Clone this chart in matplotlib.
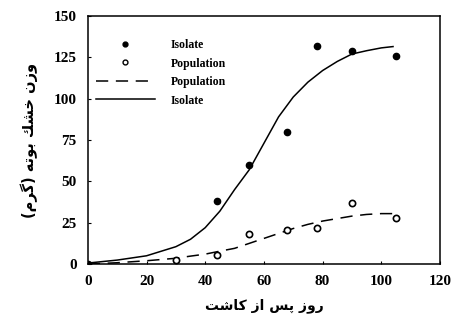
import matplotlib
matplotlib.use('Agg')
import matplotlib.pyplot as plt
from matplotlib.lines import Line2D

# observed points
isolate_days = [0, 44, 55, 68, 78, 90, 105]
isolate_obs = [0, 38, 60, 80, 132, 129, 126]
pop_days = [30, 44, 55, 68, 78, 90, 105]
pop_obs = [2.4, 5.6, 18, 20.6, 22, 37, 28]

# fitted curves
fit_days = [0, 10, 20, 30, 35, 40, 45, 50, 55, 60, 65, 70, 75, 80, 85, 90, 95, 100, 104]
isolate_fit = [0.6, 2.4, 5, 10.5, 15, 22, 32, 45, 57, 73, 89, 101, 110, 117, 122.5, 127, 129, 130.7, 131.5]
pop_fit = [0, 0.8, 2, 3.5, 4.8, 6, 7.8, 9.5, 12.5, 15.5, 18.5, 21.5, 24, 26, 27.5, 29, 30, 30.5, 30.5]

xticks = [0, 20, 40, 60, 80, 100, 120]
yticks = [0, 25, 50, 75, 100, 125, 150]

# Persian labels, pre-shaped (presentation forms, visual order)
xlabel = '\uFE96\uFEB7\uFE8E\uFEDB \uFEAF\uFE8D \uFEB2\uFB58 \uFEAF\uFEED\uFEAD'
ylabel = '(\uFEE1\uFEAE\uFB94) \uFEEA\uFE97\uFEEE\uFE91 \uFEDA\uFEB8\uFEA7 \uFEE5\uFEAF\uFEED'

fig = plt.figure(figsize=(4.55, 3.26), dpi=100)
ax = fig.add_axes([0.193, 0.19, 0.774, 0.761])

ax.plot(fit_days, isolate_fit, color='black', lw=1.1)
ax.plot(fit_days, pop_fit, color='black', lw=1.1, dashes=(8, 5))
ax.plot(isolate_days, isolate_obs, 'o', color='black', ms=4.5, ls='none')
ax.plot(pop_days, pop_obs, 'o', mfc='white', mec='black', mew=1.2, ms=4.5, ls='none')

ax.set_xlim(0, 120)
ax.set_ylim(0, 150)
ax.set_xticks(xticks)
ax.set_yticks(yticks)
ax.tick_params(direction='in', length=2.5, width=0.8, pad=8)
for lab in ax.get_xticklabels() + ax.get_yticklabels():
    lab.set_fontfamily('Liberation Serif')
    lab.set_fontweight('bold')
    lab.set_fontsize(11)
for s in ax.spines.values():
    s.set_linewidth(1.1)

ax.set_xlabel(xlabel, family=['DejaVu Sans'], fontweight='bold', fontsize=10, labelpad=7)
ax.set_ylabel(ylabel, family=['DejaVu Sans'], fontweight='bold', fontsize=10.5, labelpad=11)

handles = [
    Line2D([], [], marker='o', color='black', ms=3.5, ls='none'),
    Line2D([], [], marker='o', mfc='white', mec='black', mew=1.0, ms=3.5, ls='none'),
    Line2D([], [], color='black', lw=1.1, dashes=(8, 5)),
    Line2D([], [], color='black', lw=1.1),
]
labels = ['Isolate', 'Population', 'Population', 'Isolate']
fig.legend(handles, labels, loc='upper left', bbox_to_anchor=(0.21, 0.88),
           frameon=False, handlelength=5, handletextpad=1.4, labelspacing=0.55,
           borderpad=0, borderaxespad=0,
           prop={'family': 'Liberation Serif', 'weight': 'bold', 'size': 8.5})

fig.savefig('out.png', dpi=100)
